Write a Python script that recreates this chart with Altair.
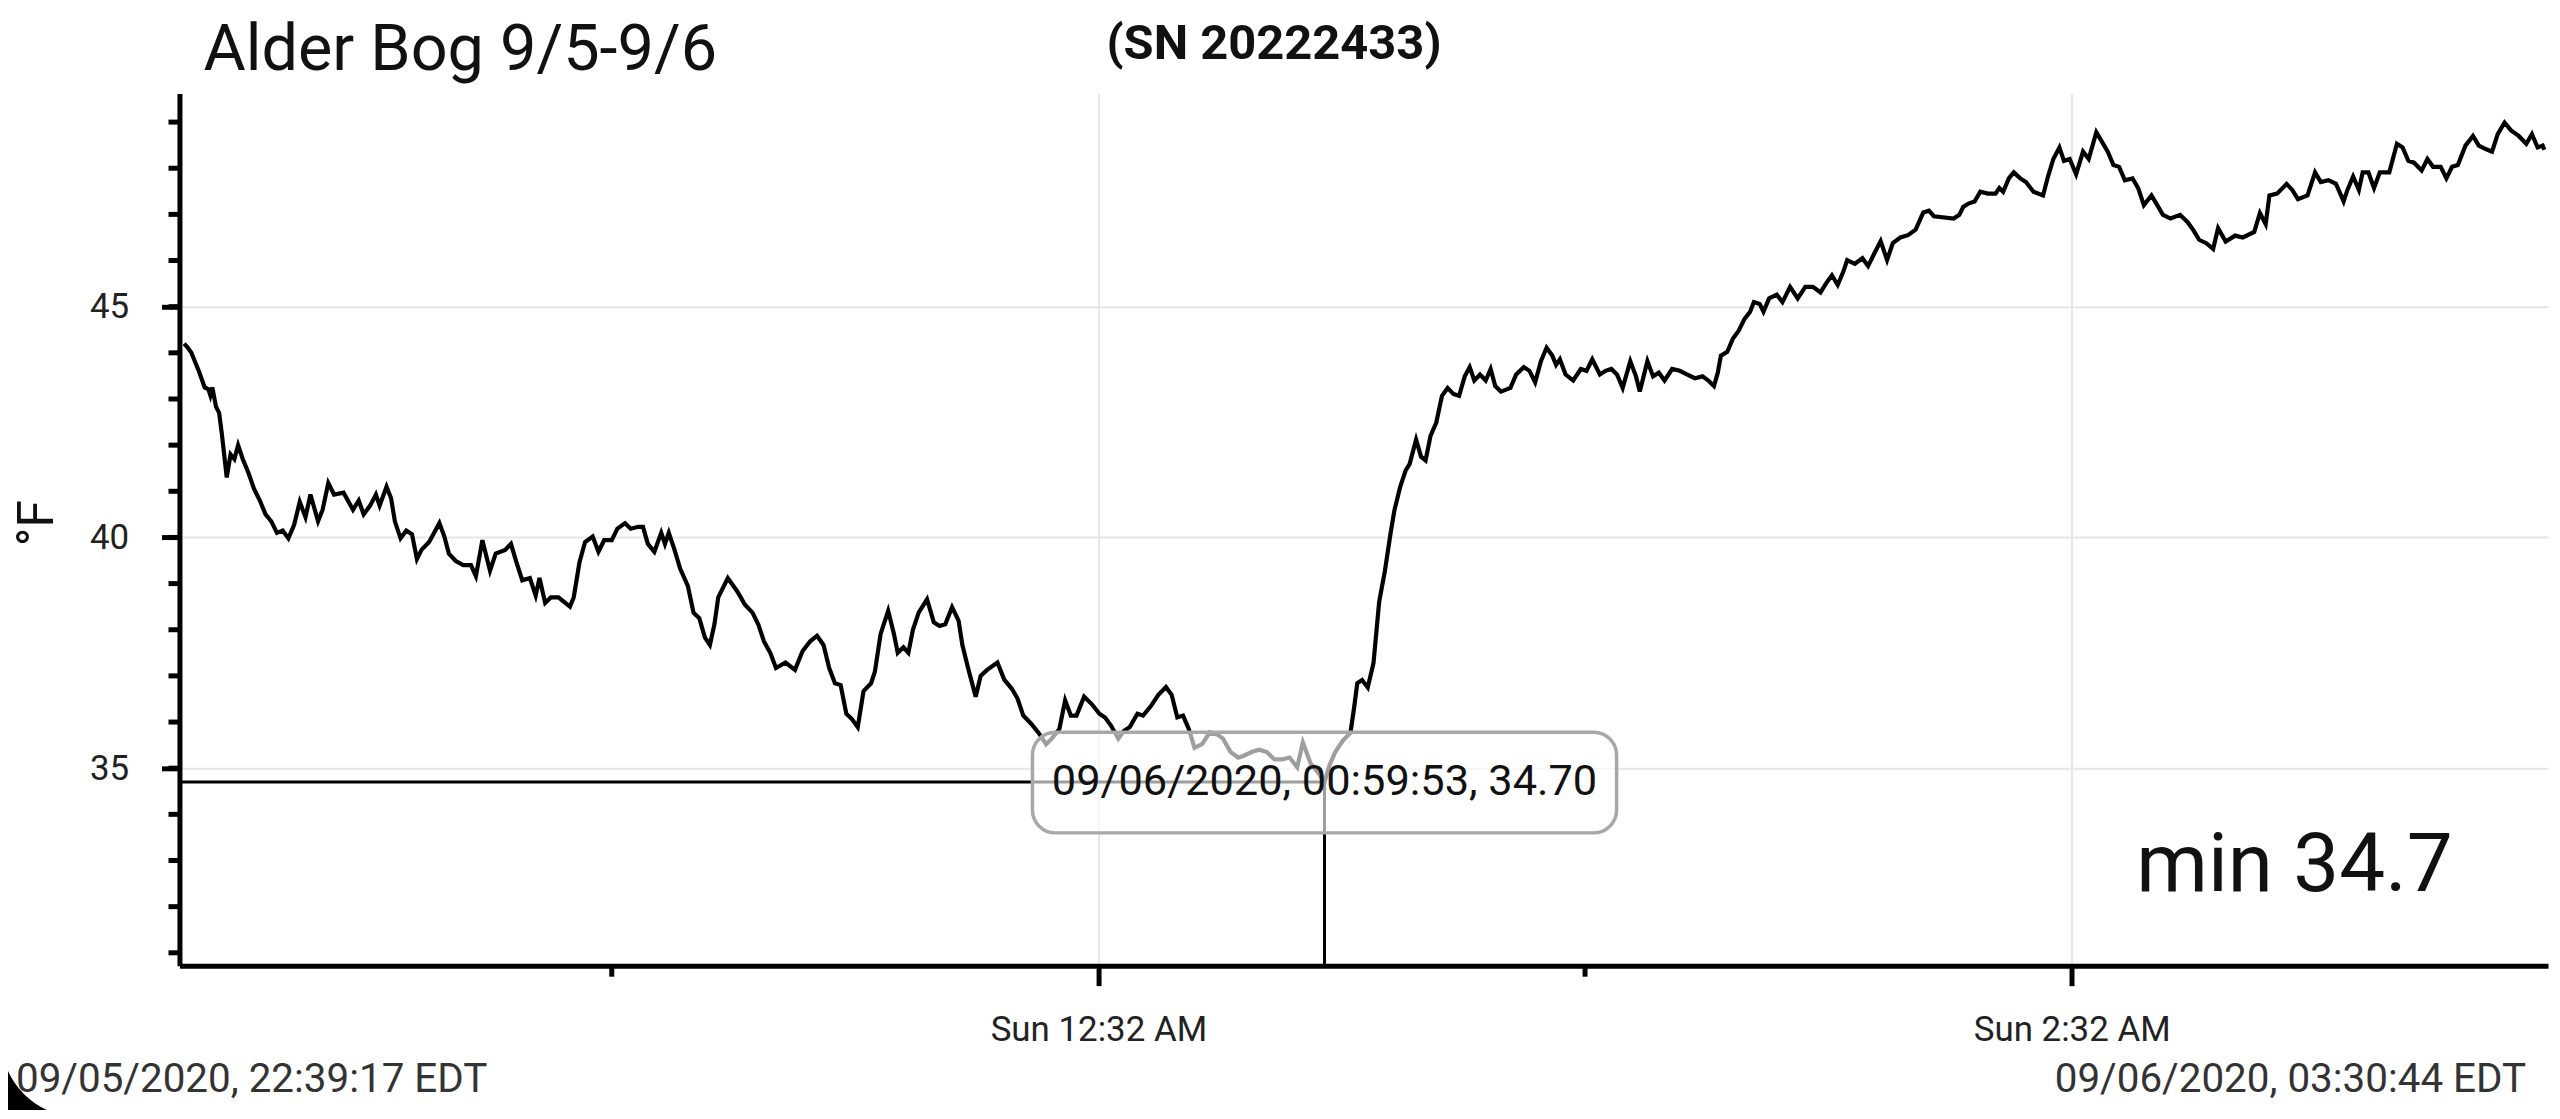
import math
import altair as alt
import pandas as pd

# ---- data (minutes after 22:39:17, temperature in °F) ----
minutes = [0.0, 0.41, 0.89, 1.35, 1.82, 2.53, 2.99, 3.23, 3.47, 3.93, 4.31, 4.64, 5.25, 5.72, 6.19,
           6.65, 7.22, 7.92, 8.62, 9.33, 10.03, 10.74, 11.44, 12.14, 12.85, 13.55, 14.25, 14.96, 15.57,
           16.51, 17.07, 17.77, 18.48, 19.65, 20.82, 21.52, 22.13, 22.93, 23.64, 24.10, 24.95, 25.51,
           25.98, 26.68, 27.39, 28.09, 28.70, 29.26, 30.20, 31.47, 32.08, 32.64, 33.49, 34.42, 35.36,
           35.97, 36.77, 37.71, 38.41, 39.58, 40.29, 40.99, 41.69, 42.63, 43.34, 43.81, 44.51, 45.21,
           46.15, 47.56, 48.03, 48.73, 49.43, 50.37, 51.08, 51.78, 52.72, 53.42, 54.36, 55.06, 56.0,
           56.57, 57.17, 57.97, 58.82, 59.28, 59.75, 60.46, 61.16, 62.10, 62.80, 63.51, 64.21, 64.82,
           65.38, 65.85, 67.03, 68.20, 69.14, 70.07, 70.78, 71.48, 72.26, 72.97, 74.14, 75.31, 76.25,
           77.19, 78.03, 78.83, 79.53, 80.24, 80.94, 81.64, 82.35, 83.05, 83.76, 84.69, 85.16, 85.87,
           86.80, 87.51, 87.98, 88.68, 89.29, 89.85, 90.56, 91.59, 92.43, 93.14, 93.84, 94.68, 95.48,
           95.95, 96.65, 97.59, 98.20, 99.0, 100.27, 101.11, 102.05, 102.75, 103.46, 104.40, 105.33,
           106.27, 106.97, 107.91, 108.62, 109.32, 110.02, 110.96, 111.90, 112.84, 113.54, 114.25,
           115.18, 115.89, 116.59, 117.53, 118.23, 119.17, 120.11, 121.05, 121.75, 122.45, 123.16,
           123.86, 124.57, 125.50, 126.44, 127.38, 128.08, 129.02, 129.96, 130.66, 131.60, 132.54,
           133.48, 134.42, 135.36, 136.29, 137.23, 137.93, 138.87, 139.81, 140.6, 141.22, 141.92,
           142.86, 143.80, 144.27, 144.64, 145.23, 145.93, 146.64, 147.34, 148.04, 148.75, 149.22,
           149.92, 150.62, 151.09, 151.89, 152.50, 153.06, 153.67, 154.38, 155.08, 155.78, 156.49,
           157.19, 157.89, 158.50, 159.07, 159.77, 160.47, 161.08, 161.65, 162.35, 163.52, 164.23,
           165.16, 165.87, 166.57, 167.28, 167.98, 168.68, 169.15, 169.62, 170.32, 171.26, 172.20,
           172.90, 173.61, 174.55, 175.25, 175.96, 176.66, 177.36, 178.30, 179.0, 179.47, 180.41,
           181.11, 181.82, 182.52, 183.46, 184.40, 185.34, 186.27, 187.21, 187.92, 188.62, 189.09,
           189.47, 190.26, 190.96, 191.67, 192.37, 193.07, 193.54, 194.25, 194.72, 195.42, 196.36,
           197.06, 198.0, 198.94, 199.88, 200.82, 201.75, 202.46, 203.16, 203.87, 204.57, 205.04,
           205.98, 206.92, 207.62, 208.32, 209.17, 209.96, 210.67, 211.60, 212.54, 213.48, 214.42,
           215.12, 215.73, 218.17, 218.87, 219.34, 220.05, 220.75, 221.45, 222.39, 223.33, 223.80,
           224.27, 224.97, 225.58, 226.38, 227.08, 228.02, 229.19, 229.80, 230.46, 231.21, 231.77,
           232.48, 233.27, 234.12, 234.82, 235.76, 236.46, 237.17, 237.87, 238.57, 239.28, 240.22,
           240.92, 241.62, 242.56, 243.27, 243.97, 244.91, 246.08, 247.02, 247.72, 248.43, 249.36,
           250.16, 250.77, 251.71, 252.88, 253.82, 255.23, 255.93, 256.64, 257.10, 258.04, 259.22,
           259.92, 260.62, 261.80, 262.73, 263.44, 264.37, 265.31, 266.25, 266.72, 267.42, 268.13,
           268.60, 269.30, 270.00, 270.71, 271.88, 272.82, 273.52, 274.23, 274.93, 275.87, 276.58,
           277.28, 278.22, 278.92, 279.62, 280.33, 281.27, 282.20, 282.91, 283.84, 284.55, 285.25,
           286.09, 286.89, 287.83, 288.77, 289.47, 290.17, 290.79, 291.0]

temps = [44.2, 44.12, 44.0, 43.8, 43.6, 43.25, 43.21, 43.08, 43.25, 42.83, 42.7, 42.25, 41.3, 41.8, 41.7,
         42.0, 41.7, 41.4, 41.05, 40.8, 40.5, 40.35, 40.1, 40.15, 39.98, 40.27, 40.77, 40.44, 40.93,
         40.35, 40.6, 41.18, 40.93, 40.97, 40.6, 40.8, 40.5, 40.69, 40.93, 40.69, 41.1, 40.85,
         40.35, 39.98, 40.15, 40.07, 39.53, 39.73, 39.9, 40.31, 40.02, 39.65, 39.49, 39.4, 39.4,
         39.16, 39.94, 39.28, 39.65, 39.73, 39.86, 39.45, 39.07, 39.12, 38.74, 39.12, 38.58, 38.7,
         38.7, 38.5, 38.7, 39.45, 39.9, 40.02, 39.69, 39.94, 39.94, 40.19, 40.31, 40.19, 40.23,
         40.23, 39.86, 39.69, 40.1, 39.86, 40.1, 39.73, 39.32, 38.95, 38.37, 38.25, 37.83, 37.67,
         38.12, 38.7, 39.12, 38.83, 38.54, 38.37, 38.12, 37.75, 37.5, 37.17, 37.29, 37.13, 37.54,
         37.75, 37.87, 37.67, 37.17, 36.84, 36.8, 36.18, 36.06, 35.89, 36.67, 36.84, 37.09, 37.91,
         38.41, 37.91, 37.5, 37.62, 37.5, 38.0, 38.37, 38.66, 38.16, 38.08, 38.12, 38.49, 38.2,
         37.67, 37.17, 36.55, 37.0, 37.13, 37.29, 36.92, 36.72, 36.51, 36.14, 35.97, 35.77,
         35.52, 35.64, 35.85, 36.47, 36.14, 36.14, 36.55, 36.39, 36.18, 36.1, 35.93,
         35.64, 35.81, 35.89, 36.18, 36.14, 36.34, 36.59, 36.76, 36.59, 36.1, 36.14,
         35.85, 35.44, 35.52, 35.77, 35.73, 35.64, 35.35, 35.23, 35.27, 35.35, 35.40,
         35.35, 35.19, 35.19, 35.23, 35.02, 35.56, 35.11, 34.9, 34.70, 35.07, 35.35,
         35.60, 35.77, 36.34, 36.84, 36.91, 36.75, 37.28, 38.61, 39.27, 40.1, 40.59,
         41.09, 41.46, 41.59, 42.12, 41.75, 41.67, 42.2, 42.49, 43.07, 43.24, 43.11,
         43.07, 43.49, 43.69, 43.4, 43.53, 43.4, 43.65, 43.28, 43.16, 43.24, 43.53,
         43.69, 43.61, 43.36, 43.82, 44.11, 43.94, 43.74, 43.86, 43.53, 43.4, 43.65,
         43.61, 43.86, 43.53, 43.61, 43.65, 43.53, 43.24, 43.82, 43.49, 43.16, 43.82,
         43.49, 43.57, 43.4, 43.65, 43.61, 43.53, 43.45, 43.49, 43.4, 43.28, 43.57,
         43.94, 44.02, 44.31, 44.48, 44.73, 44.89, 45.1, 45.06, 44.89, 45.18, 45.26,
         45.1, 45.43, 45.18, 45.43, 45.43, 45.31, 45.51, 45.68, 45.47, 45.76, 46.01,
         45.93, 46.05, 45.88, 46.13, 46.42, 46.01, 46.38, 46.5, 46.55, 46.67, 47.04,
         47.08, 46.96, 46.91, 46.99, 47.16, 47.24, 47.28, 47.49, 47.45, 47.45, 47.57,
         47.49, 47.78, 47.91, 47.78, 47.7, 47.49, 47.41, 47.82, 48.2, 48.45, 48.16,
         48.2, 47.87, 48.36, 48.2, 48.78, 48.57, 48.36, 48.07, 48.03, 47.74, 47.78,
         47.57, 47.2, 47.41, 47.2, 46.99, 46.91, 46.99, 46.83, 46.66, 46.45, 46.37,
         46.25, 46.7, 46.41, 46.54, 46.5, 46.62, 47.03, 46.79, 47.41, 47.45, 47.66,
         47.53, 47.33, 47.41, 47.91, 47.7, 47.74, 47.66, 47.28, 47.53, 47.82, 47.53,
         47.91, 47.91, 47.57, 47.91, 47.91, 48.53, 48.45, 48.16, 48.12, 47.95, 48.2,
         48.03, 48.03, 47.78, 48.03, 48.07, 48.49, 48.7, 48.49, 48.41, 48.36, 48.74,
         48.99, 48.82, 48.7, 48.53, 48.74, 48.45, 48.49, 48.4]

x_domain = [-0.58, 291.45]
y_domain = [30.72, 49.62]
x_major = [112.72, 232.72]
x_major_labels = ["Sun 12:32 AM", "Sun 2:32 AM"]
x_minor = [52.72, 172.72]
y_major = [35, 40, 45]
y_minor = list(range(31, 50))

min_time = 140.6
min_temp = 34.70
tooltip_label = "09/06/2020, 00:59:53, 34.70"
start_label = "09/05/2020, 22:39:17 EDT"
end_label = "09/06/2020, 03:30:44 EDT"
title_text = "Alder Bog 9/5-9/6"
serial_text = "(SN 20222433)"
min_text = "min 34.7"
unit_text = "°F"

W, H = 2376, 875
FONT = "Roboto"

df = pd.DataFrame({"t": minutes, "v": temps})
xs = alt.Scale(domain=x_domain, nice=False, zero=False)
ys = alt.Scale(domain=y_domain, nice=False, zero=False)

mid = (x_major[0] + x_major[1]) / 2
label_expr = f"datum.value < {mid} ? '{x_major_labels[0]}' : '{x_major_labels[1]}'"

x_axis = alt.Axis(values=x_major, labelExpr=label_expr, title=None, tickSize=20, tickWidth=5,
                  tickColor="black", domainColor="black", domainWidth=5, labelFont=FONT,
                  labelFontSize=35, labelColor="#222", labelPadding=27, labelFlush=False,
                  labelOverlap=False, labelLimit=0, grid=True, gridColor="#e6e6e6", gridWidth=2)
y_axis = alt.Axis(values=y_major, title=None, tickSize=18, tickWidth=5, tickColor="black",
                  domainColor="black", domainWidth=5, labelFont=FONT, labelFontSize=35,
                  labelColor="#222", labelPadding=33, labelFlush=False, labelOverlap=False,
                  labelLimit=0, grid=True, gridColor="#e6e6e6", gridWidth=2)


def X(field):
    return alt.X(field, scale=xs, axis=x_axis)


def Y(field):
    return alt.Y(field, scale=ys, axis=y_axis)


line = alt.Chart(df).mark_line(color="black", strokeWidth=4.2, clip=True).encode(
    x=X("t:Q"), y=Y("v:Q"))

cross_df = pd.DataFrame({"t0": [x_domain[0]], "t": [min_time], "v": [min_temp],
                         "vb": [y_domain[0]], "s": [tooltip_label]})

hrule = alt.Chart(cross_df).mark_rule(color="black", strokeWidth=3).encode(
    x=X("t0:Q"), x2="t:Q", y=Y("v:Q"))
vrule = alt.Chart(cross_df).mark_rule(color="black", strokeWidth=3).encode(
    x=X("t:Q"), y=Y("v:Q"), y2="vb:Q")

box = alt.Chart(cross_df).mark_rect(
    cornerRadius=23, fill="white", fillOpacity=0.62, stroke="#a8a8a8", strokeWidth=3.5,
    xOffset=-293, x2Offset=293, yOffset=-50, y2Offset=51).encode(
    x=X("t:Q"), x2="t:Q", y=Y("v:Q"), y2="v:Q")

tip = alt.Chart(cross_df).mark_text(font=FONT, fontSize=43.5, color="#111", align="center",
                                    baseline="middle").encode(
    x=X("t:Q"), y=Y("v:Q"), text="s:N")

yminor = alt.Chart(pd.DataFrame({"v": y_minor})).mark_rule(color="black", strokeWidth=5).encode(
    y=Y("v:Q"), x=alt.value(0), x2=alt.value(-11))
xminor = alt.Chart(pd.DataFrame({"t": x_minor})).mark_rule(color="black", strokeWidth=5).encode(
    x=X("t:Q"), y=alt.value(H), y2=alt.value(H + 11))


def label(text, x, y, size, weight="normal", align="left", color="#111", angle=0,
          baseline="alphabetic"):
    return alt.Chart(pd.DataFrame({"s": [text]})).mark_text(
        font=FONT, fontSize=size, fontWeight=weight, align=align, baseline=baseline,
        color=color, angle=angle).encode(x=alt.value(x), y=alt.value(y), text="s:N")


texts = [
    label(title_text, 24, -24, 65),
    label(serial_text, 930, -35, 49, weight="bold"),
    label(unit_text, -142, 431, 50, align="center", baseline="middle", angle=270),
    label(min_text, 1963, 800, 82),
    label(start_label, -164, 1002, 40.5, color="#333"),
    label(end_label, 2354, 1002, 40.5, color="#333", align="right"),
]

# rounded black screen corner at the bottom-left of the screenshot
corner = alt.Chart(pd.DataFrame({"a": [0]})).mark_arc(
    innerRadius=79, outerRadius=140, theta=math.pi, theta2=1.5 * math.pi, color="black").encode(
    x=alt.value(-100), y=alt.value(948))

chart = alt.layer(line, hrule, vrule, xminor, yminor, box, tip, *texts, corner).properties(
    width=W, height=H,
    autosize=alt.AutoSizeParams(type="none"),
    padding={"left": 172, "top": 84, "right": 4, "bottom": 143},
    background="white",
).configure_view(stroke=None)

chart.save("out.html", embed_options={"renderer": "svg", "actions": False})
